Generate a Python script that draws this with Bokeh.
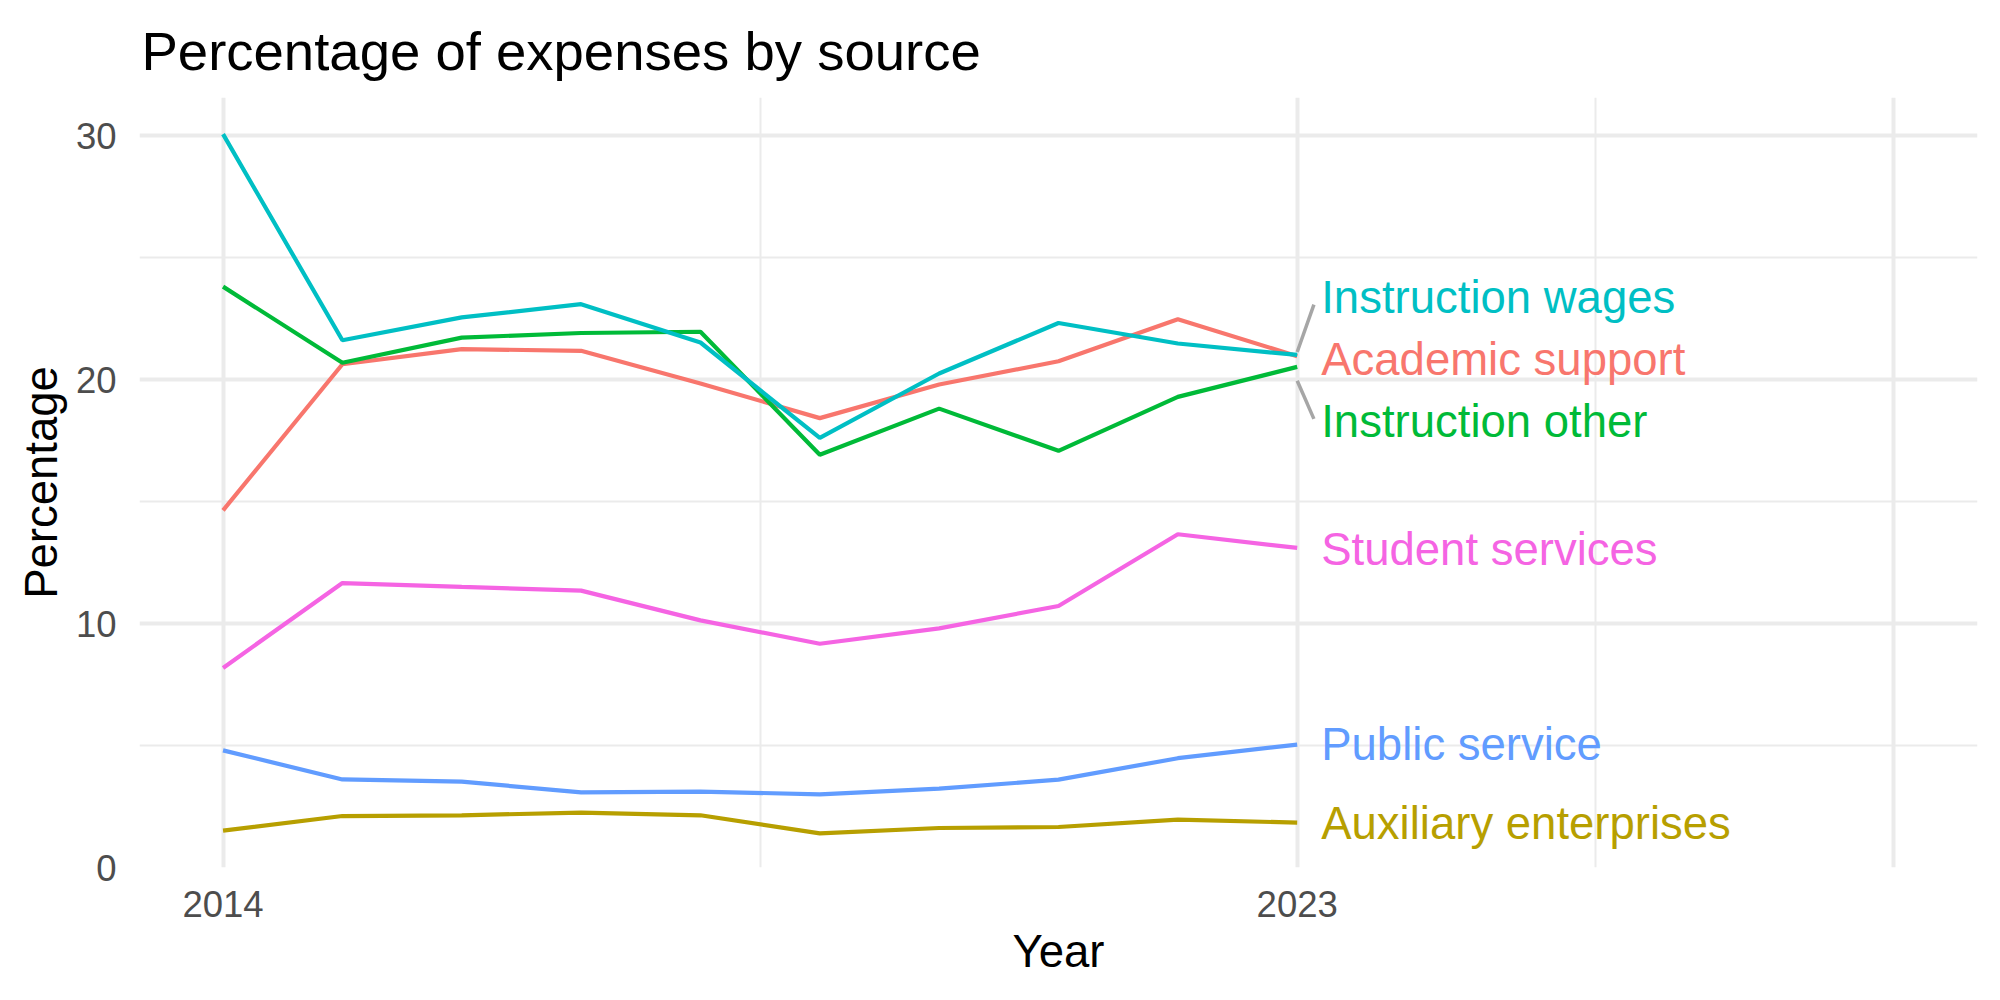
from bokeh.plotting import figure
from bokeh.models import Range1d, FixedTicker, Title, ColumnDataSource
from bokeh.core.properties import value
from bokeh.embed import file_html
from bokeh.resources import INLINE

# Share of expenses by source, 2014-2023 (percent)
years = [2014, 2015, 2016, 2017, 2018, 2019, 2020, 2021, 2022, 2023]
academic_support = [14.64, 20.63, 21.25, 21.18, 19.84, 18.42, 19.80, 20.75, 22.47, 20.96]
auxiliary_enterprises = [1.51, 2.11, 2.14, 2.25, 2.14, 1.40, 1.62, 1.66, 1.96, 1.84]
instruction_other = [23.81, 20.69, 21.72, 21.91, 21.96, 16.92, 18.81, 17.08, 19.29, 20.52]
instruction_wages = [30.06, 21.61, 22.55, 23.09, 21.52, 17.61, 20.25, 22.32, 21.48, 21.01]
public_service = [4.80, 3.61, 3.52, 3.08, 3.11, 3.00, 3.23, 3.60, 4.48, 5.04]
student_services = [8.18, 11.66, 11.50, 11.35, 10.13, 9.17, 9.80, 10.72, 13.66, 13.10]

series_names = ["Academic support", "Auxiliary enterprises", "Instruction other",
                "Instruction wages", "Public service", "Student services"]
series_values = [academic_support, auxiliary_enterprises, instruction_other,
                 instruction_wages, public_service, student_services]
series_colors = ["#F8766D", "#B79F00", "#00BA38", "#00BFC4", "#619CFF", "#F564E3"]

# end-of-line label heights, spread apart where the lines bunch together
label_y = [20.83, 1.82, 18.27, 23.37, 5.04, 13.05]

x_breaks = [2014, 2023, 2028]
y_breaks = [0, 10, 20, 30]

FONT = "Liberation Sans"
GRID = "#EBEBEB"

y_top = max(max(v) for v in series_values) * 1.05

p = figure(width=2000, height=1000, output_backend="svg", toolbar_location=None,
           x_range=Range1d(2013.3, 2028.7), y_range=Range1d(0, y_top),
           min_border_left=139, min_border_right=23, min_border_top=97,
           min_border_bottom=133)
p.outline_line_color = None
p.background_fill_color = "white"
p.border_fill_color = "white"

# axes
p.xaxis.ticker = FixedTicker(ticks=x_breaks, minor_ticks=[2018.5, 2025.5])
p.xaxis.major_label_overrides = {2028: ""}
p.yaxis.ticker = FixedTicker(ticks=y_breaks, minor_ticks=[5, 15, 25])
for ax in (p.xaxis[0], p.yaxis[0]):
    ax.axis_line_color = None
    ax.major_tick_line_color = None
    ax.minor_tick_line_color = None
    ax.major_tick_out = 0
    ax.major_tick_in = 0
    ax.minor_tick_out = 0
    ax.major_label_text_font = FONT
    ax.major_label_text_font_size = "36.5px"
    ax.major_label_text_color = "#4D4D4D"
    ax.axis_label_text_font = FONT
    ax.axis_label_text_font_size = "45.5px"
    ax.axis_label_text_font_style = "normal"
    ax.axis_label_text_color = "black"

p.xaxis.axis_label = "Year"
p.yaxis.axis_label = "Percentage"
p.xaxis.major_label_standoff = 23
p.xaxis.axis_label_standoff = 6
p.yaxis.major_label_standoff = 23
p.yaxis.axis_label_standoff = 6

# grid
for g in (p.xgrid[0], p.ygrid[0]):
    g.grid_line_color = GRID
    g.grid_line_width = 4
    g.minor_grid_line_color = GRID
    g.minor_grid_line_width = 2

# lines
for name, vals, col in zip(series_names, series_values, series_colors):
    p.line(years, vals, line_color=col, line_width=4.2)

# leader segments for the labels that were pushed away from their line ends
seg_x0, seg_y0, seg_x1, seg_y1 = [], [], [], []
for vals, ly in zip(series_values, label_y):
    end = vals[-1]
    if abs(ly - end) > 1.0:
        direction = 1 if ly > end else -1
        seg_x0.append(years[-1])
        seg_y0.append(end + 0.12 * direction - (0.45 if direction < 0 else 0))
        seg_x1.append(years[-1] + 0.14)
        seg_y1.append(ly - 0.3 * direction - (0.18 if direction < 0 else 0))
p.segment(seg_x0, seg_y0, seg_x1, seg_y1, line_color="#A6A6A6", line_width=3.5)

src = ColumnDataSource(dict(x=[years[-1]] * len(series_names), y=label_y,
                            t=series_names, c=series_colors))
p.text(x="x", y="y", text="t", text_color="c", source=src, x_offset=24,
       text_font=value(FONT), text_font_size="45.5px", text_align="left",
       text_baseline="middle")

title = Title(text="Percentage of expenses by source", text_font=FONT,
              text_font_size="54.5px", text_font_style="normal",
              text_color="black", align="left", offset=2, standoff=32)
p.add_layout(title, "above")

open("out.html", "w").write(file_html(p, INLINE))
